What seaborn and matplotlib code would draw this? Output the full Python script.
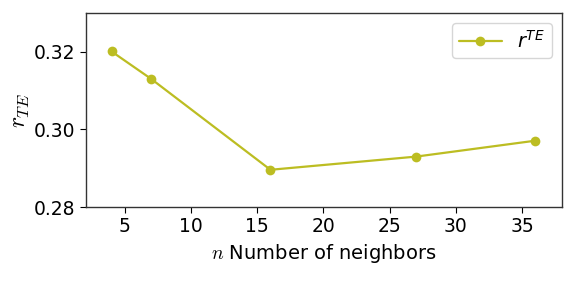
import numpy as np
import pandas as pd
import seaborn as sns
import matplotlib.pyplot as plt

# data
neighbors = [4, 7, 16, 27, 36]
r_te = [0.3201, 0.3130, 0.2896, 0.2930, 0.2971]
y_ticks = [0.28, 0.30, 0.32]
x_ticks = [5, 10, 15, 20, 25, 30, 35]

sns.set_style("white")
plt.rcParams["font.family"] = ["DejaVu Sans"]
plt.rcParams["mathtext.fontset"] = "cm"
plt.rcParams["text.color"] = "black"
plt.rcParams["axes.labelcolor"] = "black"
plt.rcParams["xtick.color"] = "black"
plt.rcParams["ytick.color"] = "black"

df = pd.DataFrame({"n": neighbors, "r": r_te})

fig = plt.figure(figsize=(5.68, 2.84), dpi=100)
ax = fig.add_axes([0.151, 0.271, 0.838, 0.683])

sns.lineplot(data=df, x="n", y="r", marker="o", markersize=7,
             markeredgewidth=0, color="#bcbd22", linewidth=1.6,
             label=r"$r^{TE}$", ax=ax)

ax.set_xlim(2.05, 38.0)
ax.set_ylim(0.28, 0.33)
ax.set_xticks(x_ticks)
ax.set_yticks(y_ticks)
ax.set_yticklabels([f"{v:.2f}" for v in y_ticks])
ax.tick_params(axis="both", labelsize=13.5, length=4, width=0.8, bottom=True, left=True)

ax.set_xlabel(r"$n$ Number of neighbors", fontsize=14)
ax.set_ylabel(r"$r_{TE}$", fontsize=17, labelpad=1)

for s in ax.spines.values():
    s.set_color("#333333")
    s.set_linewidth(1.0)

leg = ax.legend(loc="upper right", fontsize=14, frameon=True,
                handlelength=2.2, borderpad=0.35)
for t in leg.get_texts():
    t.set_math_fontfamily("dejavusans")

fig.savefig("out.png", dpi=100)
